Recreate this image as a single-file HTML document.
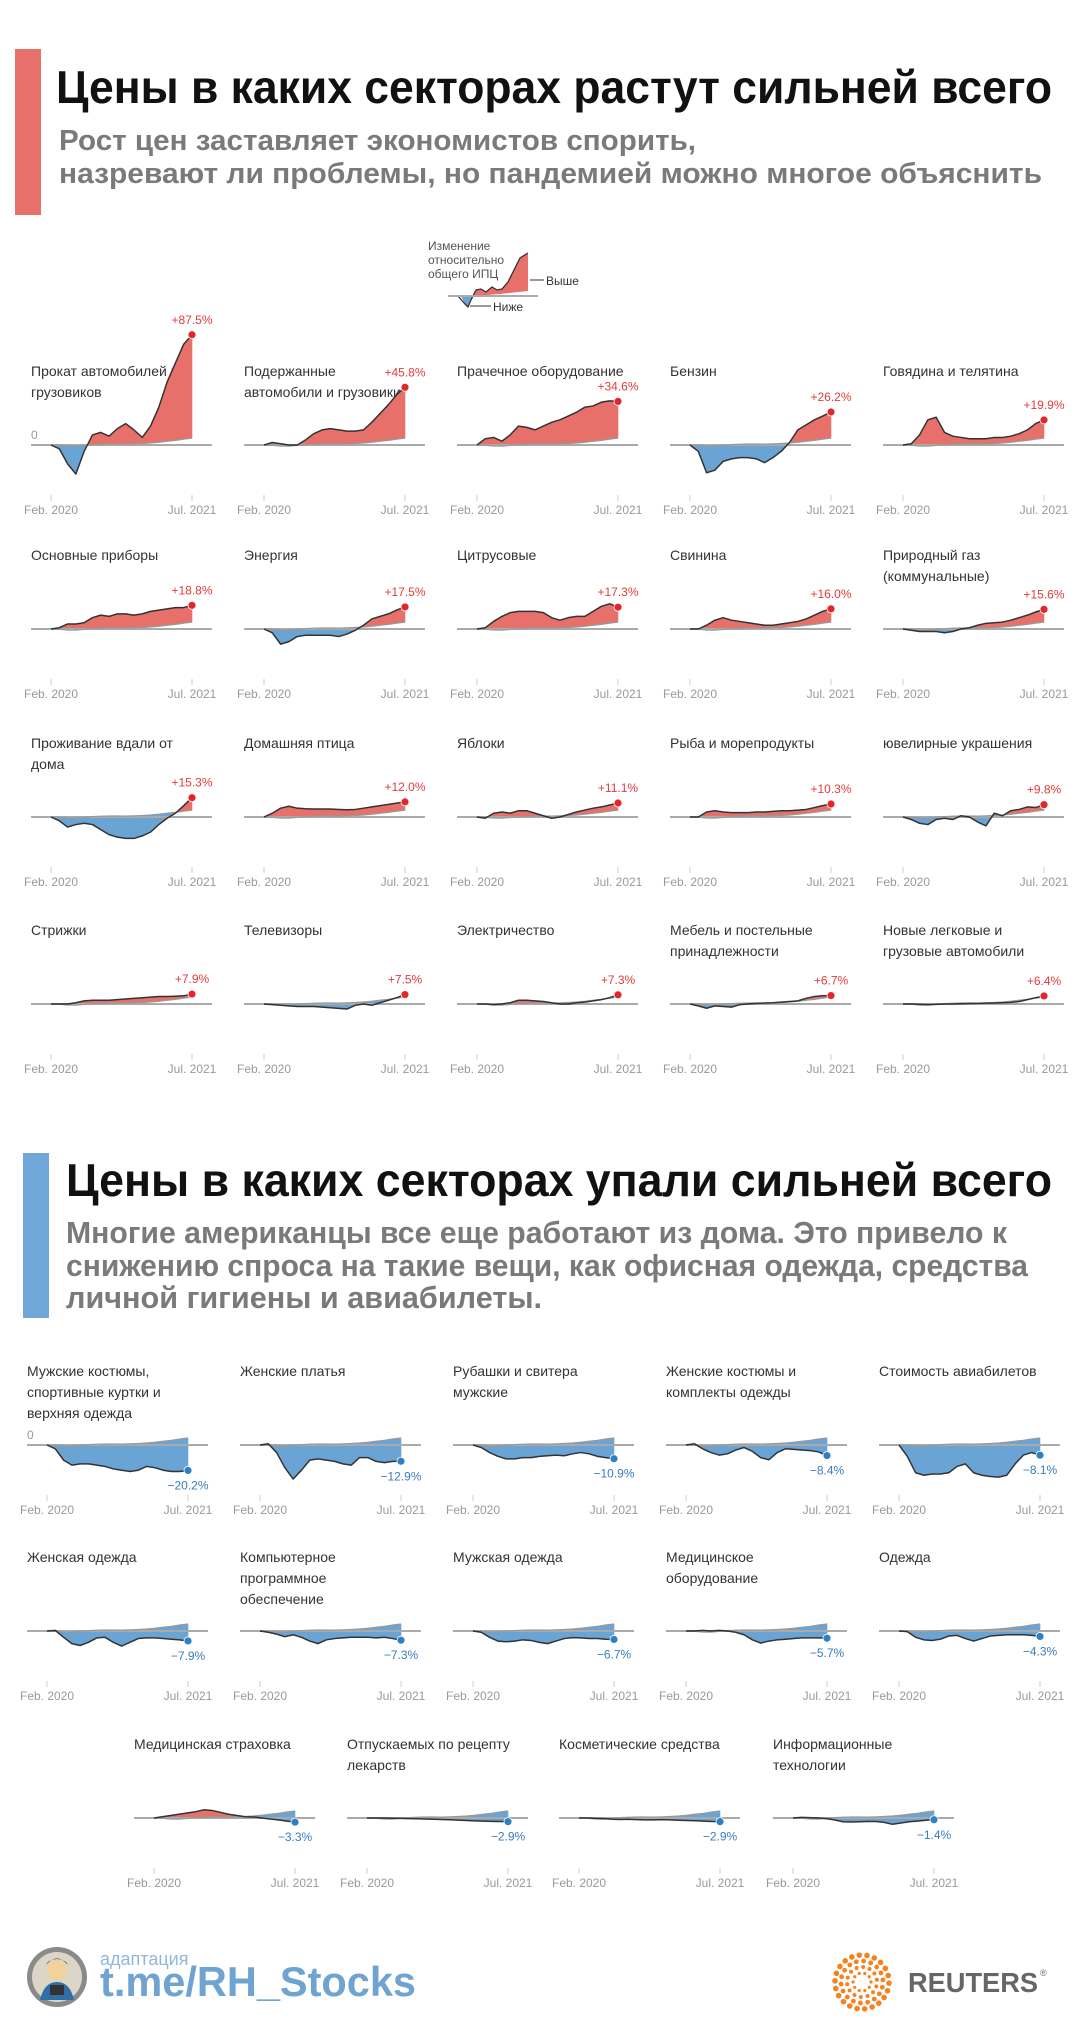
<!DOCTYPE html>
<html><head><meta charset="utf-8">
<style>
html,body{margin:0;padding:0;background:#fff;}
svg{display:block;font-family:"Liberation Sans","Noto Sans CJK SC",sans-serif;}
</style></head>
<body>
<svg id="root" width="1091" height="2044" viewBox="0 0 1091 2044" xmlns="http://www.w3.org/2000/svg">
  <rect x="0" y="0" width="1091" height="2044" fill="#fff"/>
  <!-- section 1 header -->
  <rect x="15" y="49" width="26" height="166" fill="#e8706a"/>
  <text x="56" y="103" font-size="46" font-weight="bold" fill="#111" textLength="996" lengthAdjust="spacingAndGlyphs">Цены в каких секторах растут сильней всего</text>
  <text x="59" y="150" font-size="29" font-weight="bold" fill="#7a7a7a" textLength="637" lengthAdjust="spacingAndGlyphs">Рост цен заставляет экономистов спорить,</text>
  <text x="59" y="183" font-size="29" font-weight="bold" fill="#7a7a7a" textLength="983" lengthAdjust="spacingAndGlyphs">назревают ли проблемы, но пандемией можно многое объяснить</text>

  <!-- legend -->
  <g>
    <text x="428" y="250" font-size="12" fill="#555">Изменение</text>
    <text x="428" y="264" font-size="12" fill="#555">относительно</text>
    <text x="428" y="278" font-size="12" fill="#555">общего ИПЦ</text>
    <path d="M461,296 L465,304 L468,307 L471,300 L473,296 Z" fill="#6aa4d5"/>
    <path d="M473,296 L476,290 L481,289 L486,292 L492,287 L497,290 L502,289 L508,282 L514,270 L520,258 L528,253 L528,291 L500,294 Z" fill="#e8706a"/>
    <path d="M458,296 L465,304 L468,307 L471,300 L476,290 L481,289 L486,292 L492,287 L497,290 L502,289 L508,282 L514,270 L520,258 L528,253" fill="none" stroke="#333" stroke-width="1.3"/>
    <line x1="448" y1="296" x2="538" y2="296" stroke="#aaa" stroke-width="2"/>
    <line x1="530" y1="280" x2="544" y2="280" stroke="#333" stroke-width="1"/>
    <text x="546" y="285" font-size="12" fill="#333">Выше</text>
    <line x1="470" y1="306" x2="491" y2="306" stroke="#333" stroke-width="1"/>
    <text x="493" y="311" font-size="12" fill="#333">Ниже</text>
  </g>

  <!-- section 2 header -->
  <rect x="23" y="1153" width="26" height="165" fill="#6fa8d8"/>
  <text x="66" y="1196" font-size="46" font-weight="bold" fill="#111" textLength="986" lengthAdjust="spacingAndGlyphs">Цены в каких секторах упали сильней всего</text>
  <text x="66" y="1243" font-size="31" font-weight="bold" fill="#7a7a7a" textLength="941" lengthAdjust="spacingAndGlyphs">Многие американцы все еще работают из дома. Это привело к</text>
  <text x="66" y="1276" font-size="31" font-weight="bold" fill="#7a7a7a" textLength="962" lengthAdjust="spacingAndGlyphs">снижению спроса на такие вещи, как офисная одежда, средства</text>
  <text x="66" y="1308" font-size="31" font-weight="bold" fill="#7a7a7a" textLength="476" lengthAdjust="spacingAndGlyphs">личной гигиены и авиабилеты.</text>

  <g id="charts"></g>

  <!-- footer -->
  <g>
    <circle cx="57" cy="1977" r="30" fill="#8a8a8a"/>
    <circle cx="57" cy="1977" r="25" fill="#dcd6c8"/>
    <circle cx="57" cy="1970" r="10" fill="#f2d29a"/>
    <path d="M46,1965 Q57,1952 68,1965 L66,1962 Q57,1956 48,1962 Z" fill="#3a2a1a"/>
    <path d="M40,2000 Q44,1982 57,1982 Q70,1982 74,2000 Z" fill="#2f6fa6"/>
    <rect x="50" y="1985" width="14" height="10" fill="#333"/>
    <text x="100" y="1965" font-size="18" fill="#8fb8dc">адаптация</text>
    <text x="100" y="1996" font-size="42" font-weight="bold" fill="#6fa3d0" textLength="316" lengthAdjust="spacingAndGlyphs">t.me/RH_Stocks</text>
  </g>
  <g id="reuters">
    <text x="908" y="1992" font-size="28" font-weight="bold" fill="#666" textLength="130" lengthAdjust="spacingAndGlyphs">REUTERS</text>
    <text x="1040" y="1976" font-size="9" fill="#666">®</text>
  </g>
</svg>
<script>
// shared CPI series (% change since Feb 2020), monthly Feb 2020 .. Jul 2021
const cpi = [0,-0.2,-0.8,-0.9,-0.3,0.3,0.6,0.8,0.8,0.7,0.9,1.2,1.6,2.2,3.0,3.7,4.7,5.5];
const tickLabels = ["Feb. 2020","Jul. 2021"];

const riseTitles = ["Прокат автомобилей и|грузовиков","Подержанные|автомобили и грузовики","Прачечное оборудование","Бензин","Говядина и телятина",
 "Основные приборы","Энергия","Цитрусовые","Свинина","Природный газ|(коммунальные)",
 "Проживание вдали от|дома","Домашняя птица","Яблоки","Рыба и морепродукты","ювелирные украшения",
 "Стрижки","Телевизоры","Электричество","Мебель и постельные|принадлежности","Новые легковые и|грузовые автомобили"];
const riseLabels = ["+87.5%","+45.8%","+34.6%","+26.2%","+19.9%","+18.8%","+17.5%","+17.3%","+16.0%","+15.6%",
 "+15.3%","+12.0%","+11.1%","+10.3%","+9.8%","+7.9%","+7.5%","+7.3%","+6.7%","+6.4%"];
const riseSeries = [
 [0,-3,-15,-23,-5,8,10,7,13,17,12,6,15,30,50,65,80,87.5],
 [0,2,1,0,0,4,9,12,13,12,11,11,12,18,25,32,40,45.8],
 [0,5,6,3,8,15,14,12,15,18,20,23,26,30,31,34,35,34.6],
 [0,-5,-22,-20,-13,-11,-10,-10,-11,-14,-10,-5,2,12,16,20,23,26.2],
 [0,1,8,20,22,10,7,6,5,5,5,6,6,7,9,12,17,19.9],
 [0,1,4,4,5,9,11,10,12,12,11,12,14,15,16,17,17,18.8],
 [0,-3,-12,-10,-6,-5,-5,-5,-5,-6,-4,-1,3,8,10,12,15,17.5],
 [0,1,6,10,13,14,14,14,13,9,7,9,10,10,14,18,20,17.3],
 [0,0,3,7,9,7,6,5,4,3,3,4,5,6,8,11,14,16],
 [0,-1,-2,-2,-2,-3,-2,0,1,3,4.5,5,5.5,7,9,11,13.5,15.6],
 [0,-3,-8,-6,-5,-6,-10,-14,-16,-17,-17,-15,-12,-6,-1,3,9,15.3],
 [0,3,7,8.5,7,6.5,6.3,6.3,6.3,6,5.8,6,7,8,9,10,11,12],
 [0,-1,3,4,3,5,5,3,1,-1,0,2,4,5.5,7,8,9.5,11.1],
 [0,0,4,5,4,3.5,3.5,3.5,4,4,4.5,5,5,5.5,6,7.5,9,10.3],
 [0,-2,-5,-6,-2,-1,-2,1,0,-4,-7,3,1,5,6,8,7.5,9.8],
 [0,0,0,1,2.5,3,3,3,3.5,4,4.5,5,5.5,6,6,6.2,6.5,7.9],
 [0,-0.5,-1,-1.5,-2,-2,-2,-2.5,-3,-3.5,-4,-1,0,-1,1,3,5,7.5],
 [0,0,-0.5,0,1,3,3,2.5,2,1,0,0,1,1.5,2.5,3.5,5,7.3],
 [0,-1.5,-3.4,-1.5,-2,-2.5,-0.5,0,0.5,0.8,1,1.5,2,2.5,4.5,6,6.5,6.7],
 [0,0,-0.3,-0.5,-0.3,0,0,0.2,0.4,0.5,0.7,0.8,1,1.3,2,3.5,5,6.4]
];

const fallTitles = ["Мужские костюмы,|спортивные куртки и|верхняя одежда","Женские платья","Рубашки и свитера|мужские","Женские костюмы и|комплекты одежды","Стоимость авиабилетов",
 "Женская одежда","Компьютерное|программное|обеспечение","Мужская одежда","Медицинское|оборудование","Одежда",
 "Медицинская страховка","Отпускаемых по рецепту|лекарств","Косметические средства","Информационные|технологии"];
const fallLabels = ["−20.2%","−12.9%","−10.9%","−8.4%","−8.1%","−7.9%","−7.3%","−6.7%","−5.7%","−4.3%","−3.3%","−2.9%","−2.9%","−1.4%"];
const fallSeries = [
 [0,-3,-12,-16,-15,-15,-16,-17,-19,-20,-21,-20,-17,-18,-20,-21,-21,-20.2],
 [0,1,-6,-18,-27,-20,-12,-11,-12,-13,-15,-16,-10,-10,-13,-14,-13,-12.9],
 [0,-2,-6,-9,-11,-11,-10,-10,-9,-8.5,-8,-8.5,-7,-6,-7,-9,-10,-10.9],
 [0,1,-3,-6,-8,-7,-4,-2,-5,-10,-11.7,-6,-3,-3.5,-4,-4.5,-5.5,-8.4],
 [0,-9,-22,-24,-23,-23,-22,-17,-15,-22,-24,-25,-25.5,-24,-15,-8,-6,-8.1],
 [0,0.5,-5,-10,-11.5,-9,-5.5,-5,-9,-12,-9,-6,-5.5,-5.5,-6,-6.5,-7,-7.9],
 [0,-1,-2.5,-4.5,-3,-5,-8,-10,-7,-6,-5.5,-5,-5,-5,-5.5,-5,-6,-7.3],
 [0,-1,-5,-8,-8.5,-8,-7,-7.5,-9,-10,-8,-6,-5.3,-5.5,-6,-6,-6.5,-6.7],
 [0,0,0.5,0,0.5,0,-1,-3,-7,-9.6,-8,-7,-6.5,-6,-5.5,-5.5,-5.5,-5.7],
 [0,-0.5,-5,-7,-7.5,-6.5,-4,-3.5,-6,-8,-6,-4,-3.5,-3,-3,-3,-3.5,-4.3],
 [0,1,2,3,4,5,6.5,6,4.5,3,2,1,0.8,0,-0.8,-1.5,-2.5,-3.3],
 [0,0,0,-0.2,-0.3,-0.5,-0.6,-0.8,-1,-1.2,-1.4,-1.7,-2,-2.3,-2.5,-2.7,-2.8,-2.9],
 [0,0,-0.3,-0.5,-1,-1.2,-1,-1.3,-1.5,-1.5,-1.3,-1.5,-1.8,-2,-2.2,-2.5,-2.8,-2.9],
 [0,0.5,0.3,0,-0.5,-1.5,-3,-3.2,-3,-2.8,-2.8,-3.5,-5,-4,-3,-2.5,-1.8,-1.4]
];

const NS = "http://www.w3.org/2000/svg";
const K = 1.26, XA = 20, XB = 161, PW = 181;
const RED = "#e8706a", BLUE = "#6aa4d5";
function xScale(i){ return XA + i * (XB - XA) / (cpi.length - 1); }
function yScale(v){ return -v * K; }
function mk(tag, attrs, parent){
  const e = document.createElementNS(NS, tag);
  for (const k in attrs) e.setAttribute(k, attrs[k]);
  parent.appendChild(e);
  return e;
}
const root = document.getElementById('charts');

function panel(x0, base, title, series, label, idx, first){
  const g = mk('g', {transform:`translate(${x0},${base})`}, root);
  
  
  title.split('|').forEach((ln, j) => {
    const t = mk('text', {x:0, y:-69 + j*21, 'font-size':14, fill:'#333'}, g);
    t.textContent = ln;
    
    
  });
  if (first){
    const z = mk('text', {x:0, y:-6, 'font-size':12, fill:'#999'}, g);
    z.textContent = '0';
    
    
  }
  for (let i = 0; i < series.length - 1; i++){
    const xa = xScale(i), xb = xScale(i+1);
    const sa = series[i], sb = series[i+1], ca = cpi[i], cb = cpi[i+1];
    const a = sa - ca, b = sb - cb;
    const polys = [];
    if (a * b >= 0){
      polys.push([[[xa,sa],[xb,sb],[xb,cb],[xa,ca]], (a + b) >= 0]);
    } else {
      const t = a / (a - b);
      const xm = xa + t * (xb - xa), vm = ca + t * (cb - ca);
      polys.push([[[xa,sa],[xm,vm],[xa,ca]], a > 0]);
      polys.push([[[xm,vm],[xb,sb],[xb,cb]], b > 0]);
    }
    polys.forEach(p => {
      const col = p[1] ? RED : BLUE;
      const poly = mk('polygon', {points: p[0].map(q => q[0].toFixed(2) + ',' + yScale(q[1]).toFixed(2)).join(' '), fill: col, stroke: col, 'stroke-width': 0.6}, g);
      
      
    });
  }
  const bl = mk('line', {x1:0, y1:0, x2:PW, y2:0, stroke:'#aaa', 'stroke-width':2}, g);
  
  
  const cl = mk('polyline', {points: cpi.map((v,i) => xScale(i).toFixed(2)+','+yScale(v).toFixed(2)).join(' '), fill:'none', stroke:'#999', 'stroke-width':1.3}, g);
  
  
  const sl = mk('polyline', {points: series.map((v,i) => xScale(i).toFixed(2)+','+yScale(v).toFixed(2)).join(' '), fill:'none', stroke:'#333', 'stroke-width':1.5, 'stroke-linejoin':'round'}, g);
  
  
  const last = series[series.length - 1];
  const up = last >= 0;
  const dx = xScale(series.length - 1), dy = yScale(last);
  const dot = mk('circle', {cx:dx, cy:dy, r:4, fill: up ? '#e3262b' : '#2f80c2', stroke:'#fff', 'stroke-width':0.8}, g);
  
  
  const vl = mk('text', {x:dx, y: up ? dy - 11 : dy + 19, 'font-size':12, fill: up ? '#e53b3b' : '#3a7cc0', 'text-anchor':'middle'}, g);
  vl.textContent = label;
  
  
  [0, series.length - 1].forEach((i, j) => {
    const tk = mk('line', {x1:xScale(i), y1:50, x2:xScale(i), y2:56, stroke:'#ccc', 'stroke-width':1}, g);
    
    
    const tl = mk('text', {x:xScale(i), y:69, 'font-size':12, fill:'#999', 'text-anchor':'middle'}, g);
    tl.textContent = tickLabels[j];
    
    
  });
}

const riseCols = [31,244,457,670,883];
const riseRows = [445,629,817,1004];
riseSeries.forEach((s, i) => {
  panel(riseCols[i % 5], riseRows[Math.floor(i / 5)], riseTitles[i], s, riseLabels[i], i, i === 0);
});
const fallCols = [27,240,453,666,879];
const fallCols3 = [134,347,559,773];
const fallRows = [1445,1631,1818];
fallSeries.forEach((s, i) => {
  const r = Math.floor(i / 5);
  const x = r < 2 ? fallCols[i % 5] : fallCols3[i - 10];
  panel(x, fallRows[r], fallTitles[i], s, fallLabels[i], i, i === 0);
});

const rg = document.getElementById('reuters');
const rings = [[9,10,1.6],[15,14,2.0],[21,18,2.4],[27,22,2.8]];
rings.forEach((rr, k) => {
  for (let j = 0; j < rr[1]; j++){
    const a = (j / rr[1]) * Math.PI * 2 + k * 0.3;
    const c = mk('circle', {cx: 862 + rr[0]*Math.cos(a), cy: 1982 + rr[0]*Math.sin(a), r: rr[2], fill:'#f5821f'}, rg);
    
    
  }
});
</script>
</body></html>
